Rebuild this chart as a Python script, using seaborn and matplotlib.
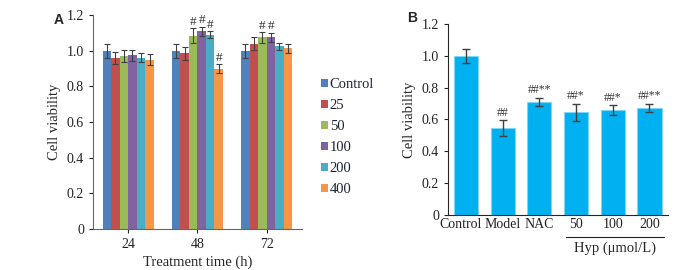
import numpy as np
import pandas as pd
import matplotlib
matplotlib.use("Agg")
import matplotlib.pyplot as plt
import matplotlib.transforms as mtransforms
import seaborn as sns

# Panel A data
times = ["24", "48", "72"]
doses = ["Control", "25", "50", "100", "200", "400"]
viab_a = {
    "Control": [1.00, 1.00, 1.00],
    "25": [0.96, 0.985, 1.04],
    "50": [0.97, 1.085, 1.075],
    "100": [0.975, 1.11, 1.075],
    "200": [0.96, 1.09, 1.025],
    "400": [0.95, 0.90, 1.015],
}
err_a = {
    "Control": [0.04, 0.04, 0.04],
    "25": [0.035, 0.035, 0.035],
    "50": [0.035, 0.04, 0.03],
    "100": [0.03, 0.025, 0.025],
    "200": [0.025, 0.02, 0.02],
    "400": [0.03, 0.025, 0.025],
}
marks_a = {
    "Control": ["", "", ""],
    "25": ["", "", ""],
    "50": ["", "#", "#"],
    "100": ["", "#", "#"],
    "200": ["", "#", ""],
    "400": ["", "#", ""],
}
colors_a = ["#4F81BD", "#C0504D", "#9BBB59", "#8064A2", "#4BACC6", "#F79646"]

# Panel B data
groups_b = ["Control", "Model", "NAC", "50", "100", "200"]
viab_b = [1.00, 0.545, 0.71, 0.645, 0.66, 0.675]
err_b = [0.045, 0.05, 0.025, 0.055, 0.03, 0.025]
marks_b = ["", "##", "##**", "##*", "##*", "##**"]

sns.set_style("ticks")
plt.rcParams["font.family"] = ["Liberation Serif", "DejaVu Serif"]
sans = ["Liberation Sans", "DejaVu Sans"]

fig = plt.figure(figsize=(7, 2.7), dpi=100)
ax1 = fig.add_axes([0.133, 0.152, 0.298, 0.792])
ax2 = fig.add_axes([0.640, 0.204, 0.314, 0.707])

rows = []
for d in doses:
    for i, t in enumerate(times):
        rows.append({"time": t, "dose": d, "v": viab_a[d][i],
                     "e": err_a[d][i], "m": marks_a[d][i]})
df_a = pd.DataFrame(rows)

sns.barplot(data=df_a, x="time", y="v", hue="dose", order=times,
            hue_order=doses, palette=colors_a, width=0.74, saturation=1,
            errorbar=None, ax=ax1, legend=True, linewidth=0)
for p, (_, r) in zip(ax1.patches, df_a.iterrows()):
    cx = p.get_x() + p.get_width() / 2
    ax1.errorbar(cx, r["v"], yerr=r["e"], color="#404040", lw=0.8,
                 capsize=2, capthick=0.8)
    if r["m"]:
        ax1.text(cx, r["v"] + r["e"] + 0.003, r["m"], ha="center",
                 va="bottom", fontsize=9.5, color="#333333")

ax1.set_ylim(0, 1.2)
ax1.set_yticks(np.arange(0, 1.21, 0.2))
ax1.set_yticklabels(["0", "0.2", "0.4", "0.6", "0.8", "1.0", "1.2"])
ax1.set_xlabel("Treatment time (h)", fontsize=10.5, labelpad=3)
ax1.set_ylabel("Cell viability", fontsize=10.5)
ax1.tick_params(labelsize=10, length=3, width=0.8, colors="#222222")
for s in ["left", "bottom"]:
    ax1.spines[s].set_color("#666666")
sns.despine(ax=ax1)
leg = ax1.legend(loc="center left", bbox_to_anchor=(1.03, 0.43), frameon=False,
                 handlelength=0.5, handleheight=0.5, handletextpad=0.1,
                 labelspacing=0.55, prop={"size": 10.5})
for t in leg.get_texts():
    t.set_color("#1c2333")
fig.text(0.077, 0.926, "A", fontsize=10, fontweight="bold",
         family=sans, ha="left", va="center")

df_b = pd.DataFrame({"g": groups_b, "v": viab_b, "e": err_b, "m": marks_b})
sns.barplot(data=df_b, x="g", y="v", order=groups_b, color="#00B0F0",
            width=0.66, saturation=1, errorbar=None, ax=ax2,
            edgecolor="#7FD5F5", linewidth=0.8)
for p, (_, r) in zip(ax2.patches, df_b.iterrows()):
    cx = p.get_x() + p.get_width() / 2
    ax2.errorbar(cx, r["v"], yerr=r["e"], color="#404040", lw=1.0,
                 capsize=3, capthick=1.0)
    if r["m"]:
        ax2.text(cx, r["v"] + r["e"] + 0.01, r["m"], ha="center",
                 va="bottom", fontsize=8.5, color="#333333")
ax2.set_ylim(0, 1.2)
ax2.set_yticks(np.arange(0, 1.21, 0.2))
ax2.set_yticklabels(["0", "0.2", "0.4", "0.6", "0.8", "1.0", "1.2"])
ax2.set_xlabel("")
ax2.set_ylabel("Cell viability", fontsize=10.5)
ax2.tick_params(axis="y", labelsize=10, length=3, width=0.8, colors="#222222")
ax2.tick_params(axis="x", labelsize=10, length=0, pad=2, colors="#222222")
ax2.set_xlim(-0.49, 5.5)
sns.despine(ax=ax2)
# nudge the first category label left, as in the original
first = ax2.get_xticklabels()[0]
first.set_transform(first.get_transform() +
                    mtransforms.ScaledTranslation(-5 / 100, 0, fig.dpi_scale_trans))
fig.text(0.581, 0.933, "B", fontsize=10, fontweight="bold",
         family=sans, ha="left", va="center")

# Hyp bracket under the last three groups
ax2.plot([2.73, 5.4], [-0.115, -0.115], color="#222222", lw=0.8,
         transform=ax2.get_xaxis_transform(), clip_on=False)
ax2.text(4.07, -0.14, "Hyp (\u03bcmol/L)", ha="center", va="top",
         fontsize=10.5, transform=ax2.get_xaxis_transform())

fig.savefig("out.png", dpi=100)
